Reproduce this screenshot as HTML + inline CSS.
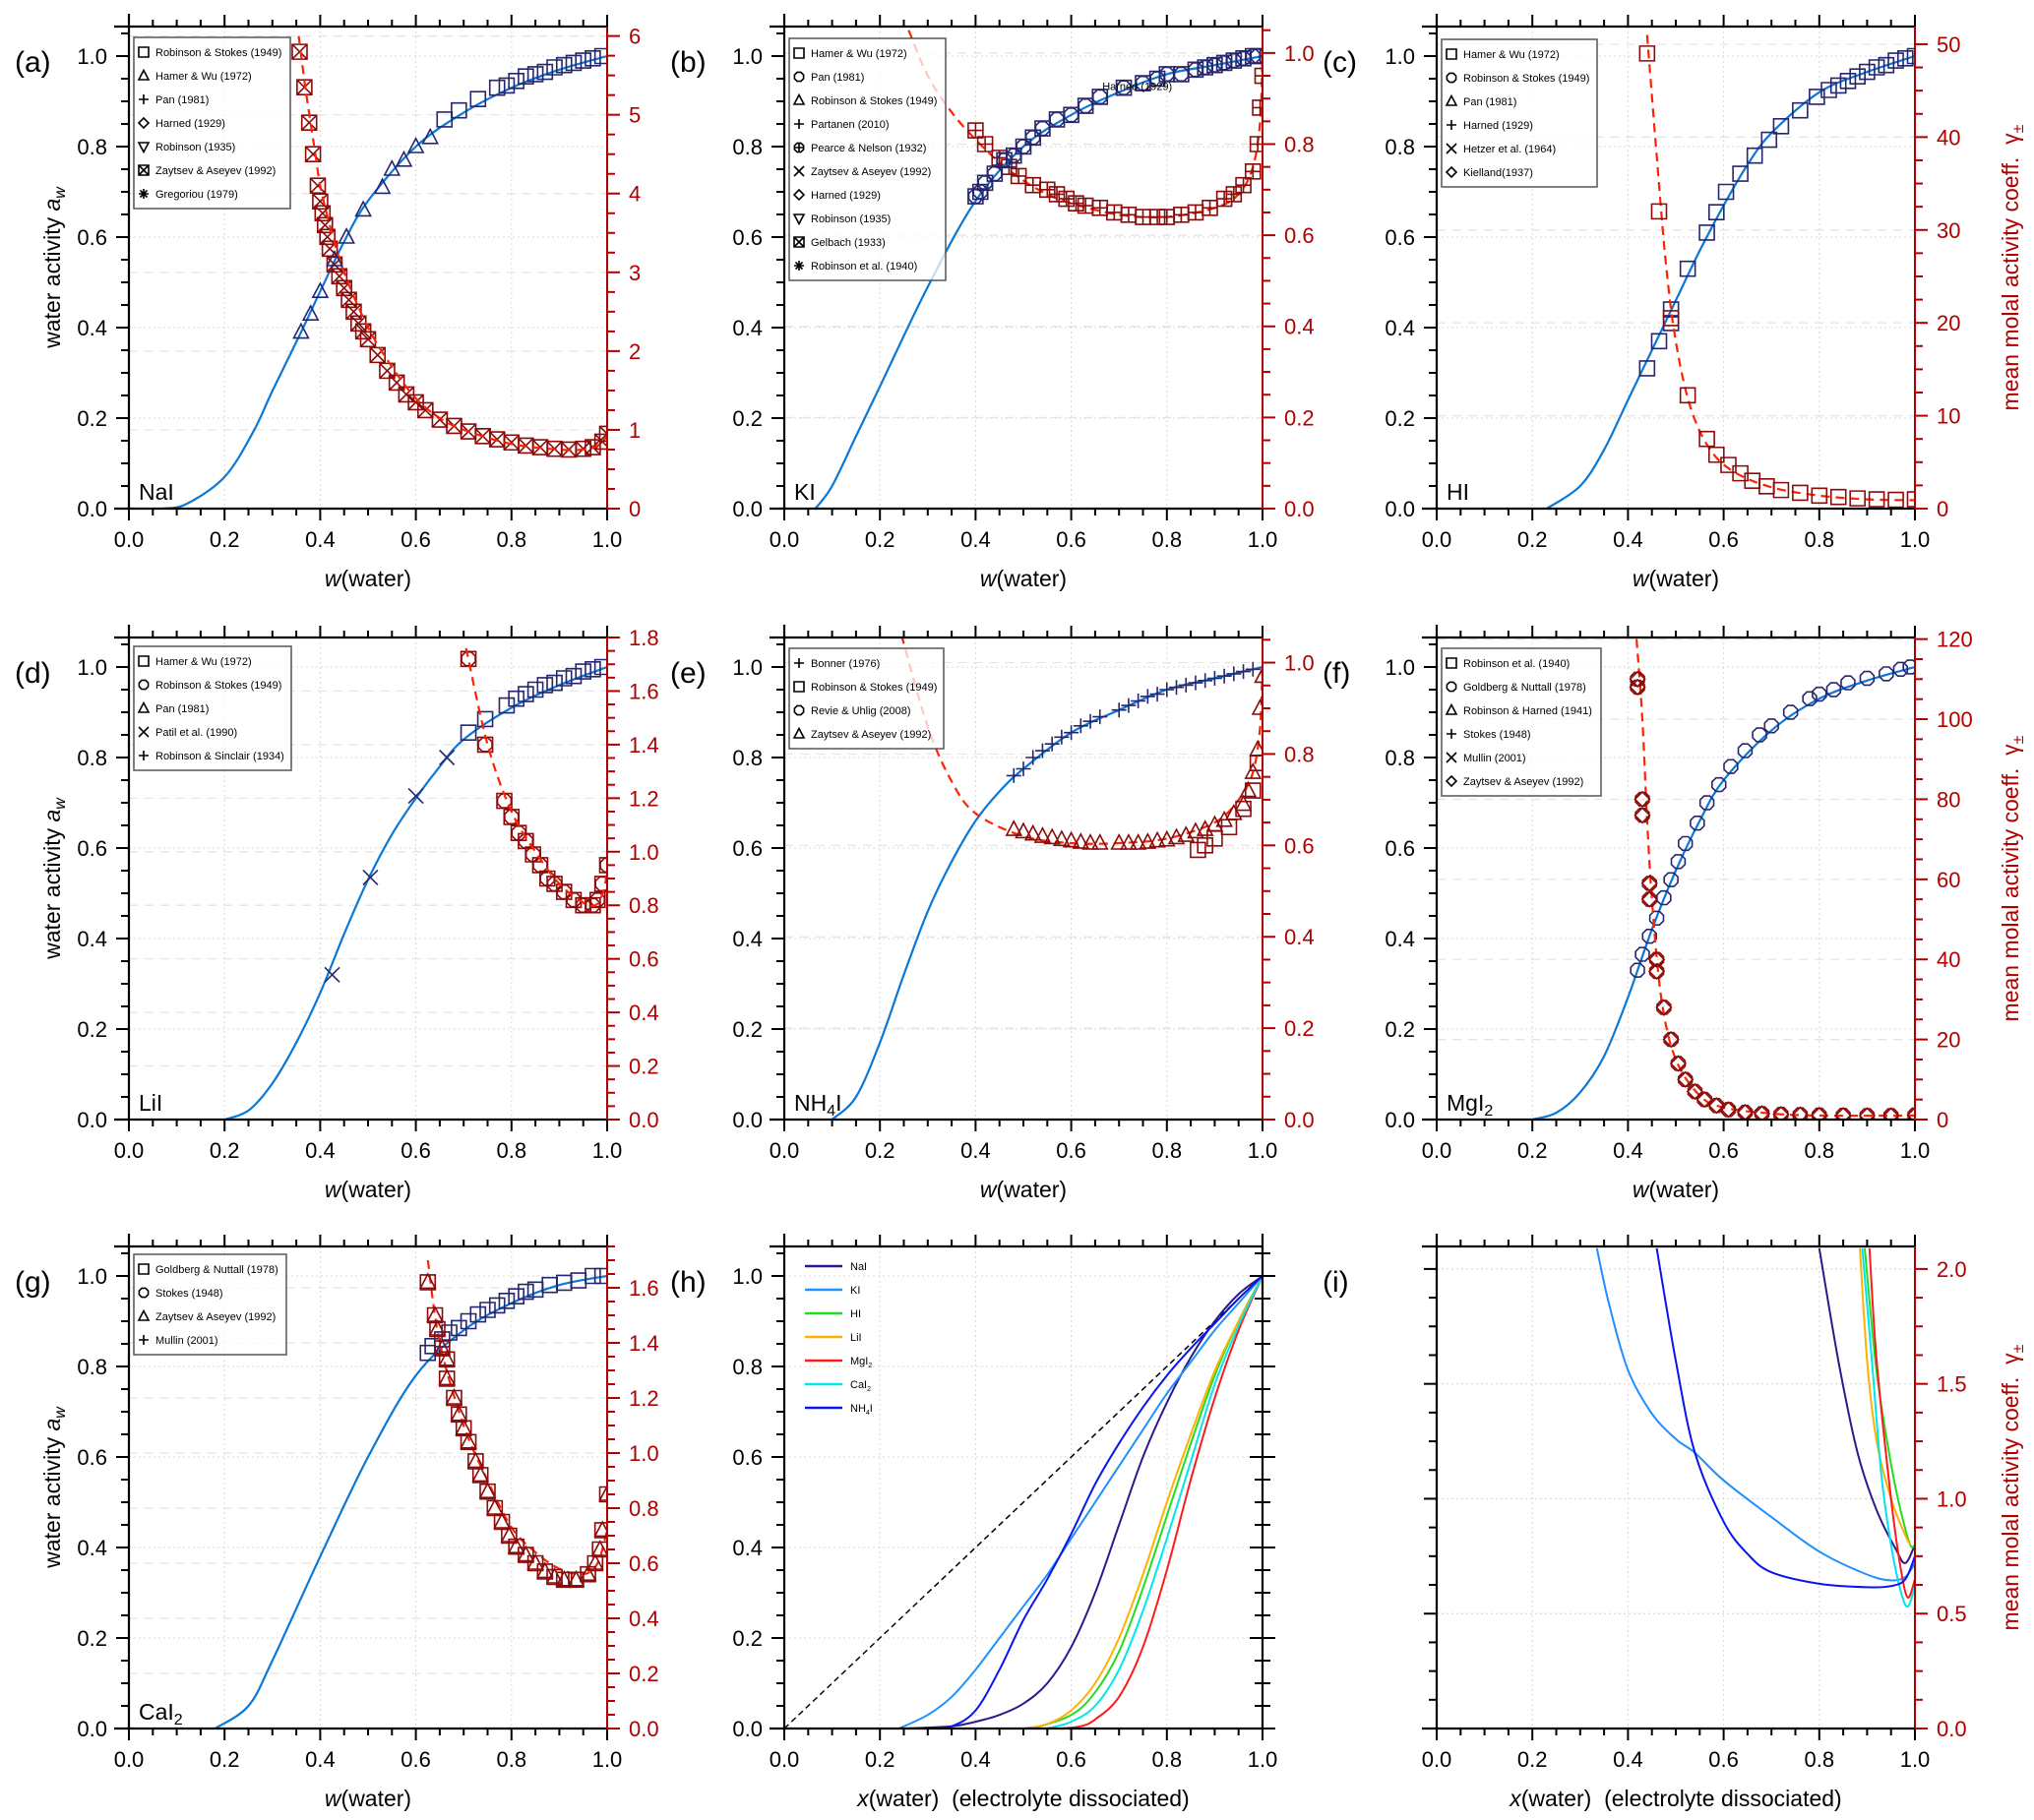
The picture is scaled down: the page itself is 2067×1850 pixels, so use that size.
<!DOCTYPE html>
<html><head><meta charset="utf-8"><title>Water activity and activity coefficients of iodide electrolytes</title>
<style>
html,body{margin:0;padding:0;background:#fff;}
svg{display:block;font-family:"Liberation Sans",Arial,sans-serif;}
</style></head>
<body>
<svg id="fig" width="2067" height="1850" viewBox="0 0 2067 1850" xmlns="http://www.w3.org/2000/svg">
<rect x="0" y="0" width="2067" height="1850" fill="#fff"/>
</svg>
<script>
// ---------- DATA: fitted curves (left axis a_w, right axis gamma) ----------
const aCurveX=[0.07,0.12,0.2,0.26,0.3,0.36,0.4,0.45,0.5,0.6,0.7,0.8,0.9,1.0];
const aCurveY=[0,0.01,0.07,0.17,0.26,0.39,0.48,0.59,0.68,0.8,0.875,0.93,0.97,1.0];
const aGamX=[0.355,0.37,0.39,0.4,0.42,0.45,0.5,0.55,0.6,0.65,0.7,0.8,0.9,0.95,0.98,1.0];
const aGamY=[6.0,5.3,4.5,4.1,3.6,3.0,2.3,1.8,1.4,1.15,1.0,0.82,0.75,0.75,0.8,0.92];
const bCurveX=[0.065,0.1,0.15,0.2,0.3,0.4,0.5,0.6,0.7,0.8,0.9,1.0];
const bCurveY=[0,0.05,0.16,0.27,0.49,0.68,0.8,0.87,0.92,0.96,0.98,1.0];
const bGamX=[0.26,0.3,0.35,0.4,0.45,0.5,0.55,0.6,0.7,0.8,0.9,0.95,0.98,0.995,1.0];
const bGamY=[1.05,0.95,0.87,0.81,0.76,0.72,0.69,0.67,0.645,0.64,0.66,0.69,0.75,0.85,1.0];
const cCurveX=[0.23,0.3,0.35,0.4,0.45,0.5,0.55,0.6,0.65,0.7,0.8,0.9,1.0];
const cCurveY=[0,0.05,0.13,0.24,0.35,0.46,0.57,0.67,0.76,0.83,0.92,0.965,1.0];
const cGamX=[0.44,0.46,0.48,0.5,0.53,0.57,0.62,0.7,0.8,0.9,1.0];
const cGamY=[51,38,26,18,11,6.5,4,2.3,1.4,1.0,0.9];
const dCurveX=[0.2,0.25,0.3,0.35,0.4,0.45,0.5,0.55,0.6,0.65,0.7,0.8,0.9,1.0];
const dCurveY=[0,0.02,0.08,0.17,0.28,0.41,0.53,0.63,0.71,0.78,0.84,0.91,0.96,1.0];
const dGamX=[0.705,0.75,0.8,0.85,0.9,0.95,0.975,0.99,1.0];
const dGamY=[1.76,1.4,1.15,1.0,0.88,0.81,0.8,0.84,0.92];
const eCurveX=[0.1,0.15,0.2,0.25,0.3,0.35,0.4,0.45,0.5,0.6,0.7,0.8,0.9,1.0];
const eCurveY=[0,0.05,0.17,0.32,0.46,0.57,0.66,0.725,0.775,0.855,0.905,0.95,0.975,1.0];
const eGamX=[0.245,0.3,0.35,0.4,0.5,0.6,0.7,0.8,0.9,0.95,0.98,0.995,1.0];
const eGamY=[1.06,0.86,0.74,0.67,0.62,0.605,0.605,0.615,0.65,0.7,0.76,0.86,1.0];
const fCurveX=[0.2,0.25,0.3,0.35,0.4,0.45,0.5,0.55,0.6,0.7,0.8,0.9,1.0];
const fCurveY=[0,0.015,0.06,0.14,0.27,0.42,0.55,0.66,0.75,0.86,0.93,0.97,1.0];
const fGamX=[0.418,0.43,0.44,0.45,0.47,0.5,0.55,0.6,0.7,0.8,1.0];
const fGamY=[120,100,75,55,30,15,6,3,1.5,1.0,1.0];
const gCurveX=[0.18,0.25,0.3,0.4,0.5,0.6,0.7,0.8,0.9,1.0];
const gCurveY=[0,0.05,0.15,0.38,0.6,0.78,0.88,0.94,0.98,1.0];
const gGamX=[0.625,0.65,0.7,0.75,0.8,0.85,0.9,0.95,0.98,1.0];
const gGamY=[1.7,1.4,1.1,0.9,0.73,0.64,0.58,0.56,0.6,0.72];

// ---------- DATA: measured markers [x, y] ----------
const aBlueTri=[[0.36,0.39],[0.38,0.43],[0.4,0.48],[0.43,0.55],[0.455,0.6],[0.49,0.66],[0.53,0.71],[0.55,0.75],[0.575,0.77],[0.6,0.8],[0.63,0.82]];
const aBlueSq=[[0.66,0.86],[0.69,0.88],[0.73,0.905],[0.77,0.93],[0.79,0.935],[0.81,0.945],[0.83,0.955],[0.85,0.96],[0.87,0.965],[0.89,0.975],[0.91,0.98],[0.93,0.985],[0.95,0.99],[0.97,0.995],[0.99,1.0]];
const aRed=[[0.357,5.8],[0.367,5.35],[0.377,4.9],[0.385,4.5],[0.395,4.1],[0.4,3.9],[0.405,3.75],[0.41,3.6],[0.415,3.45],[0.42,3.3],[0.43,3.1],[0.44,2.95],[0.45,2.8],[0.46,2.65],[0.47,2.5],[0.48,2.35],[0.49,2.25],[0.5,2.15],[0.52,1.95],[0.54,1.75],[0.56,1.6],[0.58,1.45],[0.6,1.35],[0.62,1.25],[0.65,1.13],[0.68,1.05],[0.71,0.98],[0.74,0.92],[0.77,0.88],[0.8,0.84],[0.83,0.8],[0.86,0.78],[0.89,0.76],[0.92,0.75],[0.95,0.76],[0.97,0.78],[0.99,0.85],[1.0,0.95]];
const bBlue=[[0.4,0.69],[0.41,0.7],[0.42,0.72],[0.44,0.74],[0.46,0.77],[0.48,0.78],[0.5,0.8],[0.52,0.82],[0.54,0.84],[0.57,0.86],[0.6,0.87],[0.63,0.89],[0.66,0.91],[0.71,0.93],[0.75,0.94],[0.78,0.95],[0.8,0.96],[0.83,0.96],[0.86,0.97],[0.88,0.975],[0.9,0.98],[0.92,0.985],[0.94,0.99],[0.96,0.995],[0.98,1.0],[0.99,1.0]];
const bRed=[[0.4,0.83],[0.42,0.8],[0.45,0.77],[0.47,0.75],[0.49,0.73],[0.52,0.71],[0.55,0.7],[0.57,0.69],[0.59,0.68],[0.61,0.67],[0.63,0.665],[0.66,0.66],[0.69,0.65],[0.72,0.645],[0.75,0.64],[0.78,0.64],[0.8,0.64],[0.83,0.645],[0.86,0.65],[0.89,0.66],[0.92,0.68],[0.94,0.69],[0.96,0.71],[0.98,0.74],[0.99,0.8],[0.995,0.88],[1.0,0.95]];
const cBlue=[[0.44,0.31],[0.465,0.37],[0.49,0.41],[0.49,0.44],[0.525,0.53],[0.565,0.61],[0.585,0.655],[0.605,0.7],[0.635,0.74],[0.665,0.78],[0.695,0.815],[0.72,0.845],[0.76,0.88],[0.795,0.91],[0.82,0.925],[0.84,0.935],[0.86,0.945],[0.88,0.955],[0.9,0.965],[0.92,0.975],[0.94,0.98],[0.96,0.99],[0.98,0.995],[1.0,1.0]];
const cRed=[[0.44,49],[0.465,32],[0.49,20.5],[0.525,12.2],[0.565,7.5],[0.585,5.8],[0.61,4.7],[0.635,3.8],[0.66,3.0],[0.69,2.4],[0.72,2.0],[0.76,1.7],[0.8,1.4],[0.84,1.25],[0.88,1.1],[0.92,1.0],[0.96,0.95],[1.0,1.0]];
const dBlueX=[[0.425,0.32],[0.505,0.535],[0.6,0.715],[0.665,0.8]];
const dBlueSq=[[0.71,0.855],[0.745,0.885],[0.79,0.915],[0.81,0.93],[0.83,0.94],[0.85,0.95],[0.87,0.96],[0.89,0.965],[0.91,0.975],[0.93,0.98],[0.95,0.99],[0.97,0.995],[0.99,1.0]];
const dRed=[[0.71,1.72],[0.745,1.4],[0.785,1.19],[0.8,1.13],[0.815,1.07],[0.83,1.04],[0.845,0.99],[0.86,0.95],[0.875,0.9],[0.89,0.88],[0.91,0.85],[0.93,0.82],[0.95,0.8],[0.97,0.8],[0.98,0.82],[0.99,0.88],[1.0,0.95]];
const eBlue=[[0.48,0.76],[0.5,0.775],[0.52,0.8],[0.54,0.815],[0.56,0.83],[0.58,0.845],[0.6,0.855],[0.62,0.87],[0.64,0.88],[0.66,0.89],[0.7,0.905],[0.72,0.915],[0.74,0.925],[0.76,0.935],[0.78,0.94],[0.8,0.95],[0.82,0.955],[0.84,0.96],[0.86,0.965],[0.88,0.97],[0.9,0.975],[0.92,0.98],[0.94,0.985],[0.96,0.99],[0.98,0.995]];
const eRedTri=[[0.48,0.635],[0.5,0.63],[0.52,0.625],[0.54,0.62],[0.56,0.617],[0.58,0.613],[0.6,0.61],[0.62,0.607],[0.64,0.605],[0.66,0.605],[0.7,0.605],[0.72,0.605],[0.74,0.605],[0.76,0.607],[0.78,0.61],[0.8,0.612],[0.82,0.617],[0.84,0.622],[0.86,0.63],[0.88,0.635],[0.9,0.645],[0.92,0.655],[0.94,0.67],[0.96,0.69],[0.97,0.72],[0.98,0.76],[0.99,0.81],[0.995,0.9],[1.0,0.97]];
const eRedSq=[[0.865,0.59],[0.88,0.6],[0.9,0.615],[0.93,0.64],[0.96,0.68],[0.98,0.72],[0.99,0.78]];
const fBlue=[[0.42,0.33],[0.43,0.365],[0.445,0.405],[0.46,0.445],[0.475,0.49],[0.49,0.53],[0.505,0.57],[0.52,0.61],[0.545,0.655],[0.565,0.7],[0.59,0.74],[0.615,0.78],[0.645,0.815],[0.675,0.85],[0.7,0.87],[0.74,0.9],[0.78,0.93],[0.8,0.94],[0.83,0.95],[0.86,0.965],[0.9,0.975],[0.94,0.985],[0.97,0.995],[0.99,1.0]];
const fRed=[[0.42,110],[0.42,108],[0.43,80],[0.43,76],[0.445,59],[0.445,55],[0.46,40],[0.46,37],[0.475,28],[0.49,20],[0.505,14],[0.52,10],[0.54,7],[0.56,5],[0.585,3.5],[0.61,2.5],[0.645,1.8],[0.68,1.5],[0.72,1.3],[0.76,1.2],[0.8,1.1],[0.85,1.05],[0.9,1.0],[0.95,1.0],[1.0,1.1]];
const gBlue=[[0.625,0.83],[0.635,0.845],[0.655,0.86],[0.67,0.875],[0.69,0.885],[0.71,0.9],[0.73,0.915],[0.75,0.925],[0.77,0.935],[0.79,0.945],[0.81,0.955],[0.83,0.965],[0.85,0.97],[0.88,0.98],[0.91,0.985],[0.94,0.99],[0.97,1.0],[0.99,1.0]];
const gRed=[[0.625,1.62],[0.64,1.5],[0.645,1.45],[0.655,1.38],[0.665,1.34],[0.665,1.27],[0.68,1.2],[0.69,1.14],[0.7,1.09],[0.71,1.04],[0.725,0.97],[0.735,0.92],[0.75,0.86],[0.765,0.8],[0.78,0.75],[0.795,0.7],[0.81,0.66],[0.83,0.63],[0.85,0.6],[0.87,0.57],[0.89,0.55],[0.91,0.54],[0.935,0.54],[0.96,0.56],[0.975,0.6],[0.985,0.65],[0.99,0.72],[1.0,0.85]];

// ---------- DATA: panel (h) a_w vs x ----------
const hNames=["NaI","KI","HI","LiI","MgI2","CaI2","NH4I"];
const hX_NaI=[0.25,0.35,0.4,0.45,0.5,0.55,0.6,0.65,0.7,0.75,0.8,0.85,0.9,0.95,1.0];
const hY_NaI=[0,0.005,0.015,0.03,0.055,0.1,0.18,0.3,0.45,0.6,0.72,0.82,0.9,0.96,1.0];
const hX_KI=[0.24,0.3,0.35,0.4,0.45,0.5,0.55,0.6,0.65,0.7,0.75,0.8,0.85,0.9,0.95,1.0];
const hY_KI=[0,0.03,0.07,0.13,0.2,0.27,0.34,0.42,0.5,0.58,0.66,0.74,0.81,0.88,0.94,1.0];
const hX_HI=[0.52,0.6,0.65,0.7,0.75,0.8,0.85,0.9,0.95,1.0];
const hY_HI=[0,0.03,0.08,0.17,0.31,0.47,0.63,0.78,0.9,1.0];
const hX_LiI=[0.5,0.55,0.6,0.65,0.7,0.75,0.8,0.85,0.9,0.95,1.0];
const hY_LiI=[0,0.01,0.04,0.1,0.2,0.34,0.5,0.65,0.79,0.9,1.0];
const hX_MgI2=[0.58,0.62,0.65,0.7,0.75,0.8,0.85,0.9,0.95,1.0];
const hY_MgI2=[0,0.005,0.02,0.07,0.18,0.35,0.55,0.73,0.88,1.0];
const hX_CaI2=[0.55,0.6,0.65,0.7,0.75,0.8,0.85,0.9,0.95,1.0];
const hY_CaI2=[0,0.015,0.05,0.13,0.26,0.42,0.59,0.76,0.89,1.0];
const hX_NH4I=[0.3,0.35,0.4,0.45,0.5,0.55,0.6,0.65,0.7,0.75,0.8,0.85,0.9,0.95,1.0];
const hY_NH4I=[0,0.005,0.04,0.13,0.24,0.33,0.43,0.54,0.63,0.71,0.78,0.84,0.895,0.95,1.0];
// ---------- DATA: panel (i) gamma vs x ----------
const iX_NaI=[0.8,0.84,0.88,0.92,0.96,0.98,1.0];
const iY_NaI=[2.09,1.6,1.2,0.95,0.78,0.72,0.8];
const iX_KI=[0.335,0.36,0.4,0.45,0.5,0.54,0.6,0.7,0.8,0.9,0.95,0.98,1.0];
const iY_KI=[2.09,1.85,1.56,1.37,1.26,1.2,1.08,0.92,0.77,0.67,0.645,0.66,0.72];
const iX_HI=[0.895,0.92,0.95,0.97,0.99,1.0];
const iY_HI=[2.09,1.55,1.15,0.95,0.8,0.8];
const iX_LiI=[0.885,0.9,0.92,0.95,0.98,0.99];
const iY_LiI=[2.09,1.6,1.25,1.0,0.84,0.8];
const iX_MgI2=[0.905,0.92,0.95,0.97,0.985,1.0];
const iY_MgI2=[2.09,1.6,1.0,0.7,0.57,0.65];
const iX_CaI2=[0.89,0.91,0.93,0.95,0.97,0.985,1.0];
const iY_CaI2=[2.09,1.6,1.1,0.8,0.6,0.53,0.62];
const iX_NH4I=[0.46,0.5,0.54,0.6,0.65,0.7,0.8,0.9,0.95,0.98,1.0];
const iY_NH4I=[2.09,1.6,1.2,0.9,0.76,0.68,0.63,0.615,0.62,0.65,0.75];

// ---------- DATA: tick labels ----------
const xTickLabels=["0.0","0.2","0.4","0.6","0.8","1.0"];
const leftTickLabels=["0.0","0.2","0.4","0.6","0.8","1.0"];

const SVGNS="http://www.w3.org/2000/svg";
const fig=document.getElementById('fig');
const COLS=[131,797,1460], ROWS=[517,1138,1757], W=486, H=490, LPU=460;
const NAVY="#26266e", DRED="#8b0a0a", BLUE="#0b78d8", RED="#ff2200", RTX="#b00000";
const FS=22;

function mk(tag,attrs,name,parent){
  const el=document.createElementNS(SVGNS,tag);
  for(const k in attrs) el.setAttribute(k,attrs[k]);
  
  
  (parent||fig).appendChild(el);
  return el;
}
function smooth(pts){
  if(pts.length<2) return "";
  let d="M"+pts[0][0].toFixed(1)+","+pts[0][1].toFixed(1);
  for(let i=0;i<pts.length-1;i++){
    const p0=pts[Math.max(0,i-1)],p1=pts[i],p2=pts[i+1],p3=pts[Math.min(pts.length-1,i+2)];
    const c1x=p1[0]+(p2[0]-p0[0])/6,c1y=p1[1]+(p2[1]-p0[1])/6;
    const c2x=p2[0]-(p3[0]-p1[0])/6,c2y=p2[1]-(p3[1]-p1[1])/6;
    d+=" C"+c1x.toFixed(1)+","+c1y.toFixed(1)+" "+c2x.toFixed(1)+","+c2y.toFixed(1)+" "+p2[0].toFixed(1)+","+p2[1].toFixed(1);
  }
  return d;
}
function marker(g,type,cx,cy,s,color,name){
  const h=s/2, sw=1.6;
  let d="";
  if(type==="sq"||type==="sqx"){ d=`M${cx-h},${cy-h}h${s}v${s}h${-s}Z`; if(type==="sqx") d+=`M${cx-h},${cy-h}L${cx+h},${cy+h}M${cx+h},${cy-h}L${cx-h},${cy+h}`; }
  else if(type==="tri"){ d=`M${cx},${cy-h*1.1}L${cx+h},${cy+h*0.8}L${cx-h},${cy+h*0.8}Z`; }
  else if(type==="tridown"){ d=`M${cx},${cy+h*1.1}L${cx+h},${cy-h*0.8}L${cx-h},${cy-h*0.8}Z`; }
  else if(type==="plus"){ d=`M${cx-h},${cy}H${cx+h}M${cx},${cy-h}V${cy+h}`; }
  else if(type==="x"){ d=`M${cx-h},${cy-h}L${cx+h},${cy+h}M${cx+h},${cy-h}L${cx-h},${cy+h}`; }
  else if(type==="star"){ d=`M${cx-h},${cy}H${cx+h}M${cx},${cy-h}V${cy+h}M${cx-h*0.7},${cy-h*0.7}L${cx+h*0.7},${cy+h*0.7}M${cx+h*0.7},${cy-h*0.7}L${cx-h*0.7},${cy+h*0.7}`; }
  else if(type==="dia"){ d=`M${cx},${cy-h}L${cx+h},${cy}L${cx},${cy+h}L${cx-h},${cy}Z`; }
  else if(type==="oct"||type==="circplus"){
    for(let k=0;k<8;k++){const a=Math.PI/8+k*Math.PI/4; d+=(k?"L":"M")+(cx+h*Math.cos(a)).toFixed(1)+","+(cy+h*Math.sin(a)).toFixed(1);} d+="Z";
    if(type==="circplus") d+=`M${cx-h},${cy}H${cx+h}M${cx},${cy-h}V${cy+h}`;
  }
  mk('path',{d:d,fill:"none",stroke:color,"stroke-width":sw},name,g);
}
function text(g,x,y,str,size,opts,name){
  const t=mk('text',Object.assign({x:x,y:y,"font-size":size,fill:"#000"},opts||{}),name,g);
  t.textContent=str; return t;
}

let clipId=0;
function panel(cfg){
  const gx=COLS[cfg.col], gy=ROWS[cfg.row], top=gy-H, right=gx+W;
  const g=mk('g',{},"panel-"+cfg.id);
  const sx=v=>gx+v*W;
  const syL=v=>gy-v*LPU;
  const syR=v=>gy-v/cfg.R*H;
  const grid=mk('g',{},"grid-"+cfg.id,g);
  for(let v=0.2;v<0.99;v+=0.2) mk('line',{x1:sx(v),x2:sx(v),y1:top,y2:gy,stroke:"#d8d8d8","stroke-width":1,"stroke-dasharray":"2,3"},"grid-vertical",grid);
  if(!cfg.noLeftLabels) for(let v=0.2;v<1.01;v+=0.2) mk('line',{x1:gx,x2:right,y1:syL(v),y2:syL(v),stroke:"#d8d8d8","stroke-width":1,"stroke-dasharray":"2,3"},"grid-horizontal",grid);
  if(cfg.R){ for(let v=cfg.rMaj;v<=cfg.R+1e-9;v+=cfg.rMaj){ mk('line',{x1:gx,x2:right,y1:syR(v),y2:syR(v),stroke:cfg.noLeftLabels?"#d8d8d8":"#e3e3e3","stroke-width":1.2,"stroke-dasharray":cfg.noLeftLabels?"2,3":"9,7"},"grid-right",grid);} }
  const cid="clip"+(clipId++);
  const cp=mk('clipPath',{id:cid},"clip-"+cfg.id,g);
  mk('rect',{x:gx,y:top,width:W,height:H},"clip-rect",cp);
  const plot=mk('g',{"clip-path":"url(#"+cid+")"},"plot-area-"+cfg.id,g);
  if(cfg.draw) cfg.draw(plot,sx,syL,syR);
  const ax=mk('g',{},"axes-"+cfg.id,g);
  mk('line',{x1:gx-15,x2:right,y1:gy,y2:gy,stroke:"#000","stroke-width":2.2},"x-axis-bottom",ax);
  mk('line',{x1:gx-15,x2:right,y1:top,y2:top,stroke:"#000","stroke-width":2.2},"x-axis-top",ax);
  mk('line',{x1:gx,x2:gx,y1:top-13,y2:gy+1,stroke:"#000","stroke-width":2.2},"y-axis-left",ax);
  for(let k=0;k<=20;k++){
    const v=k*0.05, big=(k%4===0), L=big?12:7;
    mk('line',{x1:sx(v),x2:sx(v),y1:gy,y2:gy+L,stroke:"#000","stroke-width":2},"x-tick",ax);
    mk('line',{x1:sx(v),x2:sx(v),y1:top,y2:top-L,stroke:"#000","stroke-width":2},"x-tick-top",ax);
  }
  xTickLabels.forEach((s,k)=>{ text(ax,sx(k*0.2),gy+39,s,FS,{"text-anchor":"middle"},"x-tick-label"); });
  if(!cfg.noLeftLabels){
    for(let k=0;k<=21;k++){ const v=k*0.05, big=(k%4===0), L=big?13:8;
      mk('line',{x1:gx,x2:gx-L,y1:syL(v),y2:syL(v),stroke:"#000","stroke-width":2},"y-tick-left",ax);
      if(cfg.mirror) mk('line',{x1:right-L,x2:right+L,y1:syL(v),y2:syL(v),stroke:"#000","stroke-width":2},"y-tick-right",ax);
    }
    leftTickLabels.forEach((s,k)=>{ text(ax,gx-22,syL(k*0.2)+8,s,FS,{"text-anchor":"end"},"y-tick-label"); });
  }
  if(cfg.mirror) mk('line',{x1:right,x2:right,y1:top-13,y2:gy+1,stroke:"#000","stroke-width":2.2},"y-axis-right",ax);
  if(cfg.R){
    const ra=mk('g',{},"right-axis-"+cfg.id,g);
    mk('line',{x1:right,x2:right,y1:top,y2:gy,stroke:RTX,"stroke-width":2},"y-axis-right",ra);
    const n=Math.floor(cfg.R/cfg.rMin+1e-6);
    for(let k=0;k<=n;k++){ const v=k*cfg.rMin; const big=Math.abs(v/cfg.rMaj-Math.round(v/cfg.rMaj))<1e-6; const L=big?13:8;
      mk('line',{x1:right,x2:right+L,y1:syR(v),y2:syR(v),stroke:RTX,"stroke-width":2},"y-tick-right",ra);
      if(cfg.noLeftLabels) mk('line',{x1:gx,x2:gx-L,y1:syR(v),y2:syR(v),stroke:"#000","stroke-width":2},"y-tick-left",ax);
      if(big) text(ra,right+22,syR(v)+8,v.toFixed(cfg.rDec),FS,{fill:RTX},"y-tick-label-right");
    }
    if(cfg.rTitle){
      const cy=(top+gy)/2, tx=2051;
      const t=mk('text',{x:tx,y:cy,"font-size":23,fill:RTX,"text-anchor":"middle",transform:`rotate(-90 ${tx} ${cy})`},"right-axis-title",ra);
      t.appendChild(document.createTextNode("mean molal activity coeff.\u00a0\u00a0\u03b3"));
      const ts=mk('tspan',{"font-size":16,dy:5},"gamma-subscript",t); ts.textContent="\u00b1";
    }
  }
  if(cfg.leftTitle){
    const cy=(top+gy)/2;
    const t=mk('text',{x:61,y:cy,"font-size":23,"text-anchor":"middle",transform:`rotate(-90 61 ${cy})`},"y-axis-title",g);
    t.appendChild(document.createTextNode("water activity "));
    const a=mk('tspan',{"font-style":"italic"},"a-symbol",t); a.textContent="a";
    const w=mk('tspan',{"font-style":"italic","font-size":16,dy:5},"w-subscript",t); w.textContent="w";
  }
  const xt=mk('text',{x:gx+W/2,y:gy+79,"font-size":23,"text-anchor":"middle"},"x-axis-title",g);
  const it=mk('tspan',{"font-style":"italic"},"x-title-var",xt); it.textContent=cfg.xvar;
  xt.appendChild(document.createTextNode(cfg.xrest));
  text(g,gx-116,gy-444,"("+cfg.id+")",30,{},"panel-label");
  if(cfg.sub){
    const t=mk('text',{x:gx+10,y:gy-9,"font-size":23},"substance-label",g);
    t.appendChild(document.createTextNode(cfg.sub[0]));
    if(cfg.sub[1]){ const s=mk('tspan',{"font-size":16,dy:5},"substance-subscript",t); s.textContent=cfg.sub[1];
      if(cfg.sub[2]){ const r=mk('tspan',{dy:-5},"substance-rest",t); r.textContent=cfg.sub[2]; } }
  }
  if(cfg.legend){
    const lg=mk('g',{},"legend-"+cfg.id,g);
    const L=cfg.legend;
    mk('rect',{x:gx+5,y:L.y,width:L.w,height:L.entries.length*24+6,fill:"#fff","fill-opacity":0.75,stroke:"#555","stroke-width":1.5},"legend-box",lg);
    L.entries.forEach((e,i)=>{
      const cy=L.y+15+i*24;
      marker(lg,e[0],gx+15,cy,10,"#000","legend-symbol");
      text(lg,gx+27,cy+4,e[1],11,{},"legend-entry");
    });
  }
  return g;
}
function curve(g,xs,ys,sx,sy,color,dash,name,w){
  const pts=xs.map((x,i)=>[sx(x),sy(ys[i])]);
  const o={d:smooth(pts),fill:"none",stroke:color,"stroke-width":w||2.2};
  if(dash) o["stroke-dasharray"]=dash;
  mk('path',o,name,g);
}
function marks(g,arr,type,sx,sy,color,name){ arr.forEach(p=>marker(g,type,sx(p[0]),sy(p[1]),15,color,name)); }

const XW="(water)";
const XD="(water)\u00a0\u00a0(electrolyte dissociated)";

panel({id:"a",col:0,row:0,R:6.12,rMaj:1,rMin:0.25,rDec:0,leftTitle:true,xvar:"w",xrest:XW,sub:["NaI"],
  legend:{y:38,w:159,entries:[["sq","Robinson & Stokes (1949)"],["tri","Hamer & Wu (1972)"],["plus","Pan (1981)"],["dia","Harned (1929)"],["tridown","Robinson (1935)"],["sqx","Zaytsev & Aseyev (1992)"],["star","Gregoriou (1979)"]]},
  draw:(g,sx,sl,sr)=>{ curve(g,aCurveX,aCurveY,sx,sl,BLUE,null,"aw-fit-curve");
    marks(g,aRed,"sqx",sx,sr,DRED,"gamma-marker"); curve(g,aGamX,aGamY,sx,sr,RED,"9,6","gamma-fit-curve");
    marks(g,aBlueTri,"tri",sx,sl,NAVY,"aw-marker"); marks(g,aBlueSq,"sq",sx,sl,NAVY,"aw-marker"); }});
panel({id:"b",col:1,row:0,R:1.058,rMaj:0.2,rMin:0.05,rDec:1,xvar:"w",xrest:XW,sub:["KI"],
  legend:{y:39,w:159,entries:[["sq","Hamer & Wu (1972)"],["oct","Pan (1981)"],["tri","Robinson & Stokes (1949)"],["plus","Partanen (2010)"],["circplus","Pearce & Nelson (1932)"],["x","Zaytsev & Aseyev (1992)"],["dia","Harned (1929)"],["tridown","Robinson (1935)"],["sqx","Gelbach (1933)"],["star","Robinson et al. (1940)"]]},
  draw:(g,sx,sl,sr)=>{ curve(g,bGamX,bGamY,sx,sr,RED,"9,6","gamma-fit-curve");
    marks(g,bRed,"sq",sx,sr,DRED,"gamma-marker"); marks(g,bRed,"plus",sx,sr,DRED,"gamma-marker");
    curve(g,bCurveX,bCurveY,sx,sl,BLUE,null,"aw-fit-curve");
    marks(g,bBlue,"oct",sx,sl,NAVY,"aw-marker"); marks(g,bBlue,"sq",sx,sl,NAVY,"aw-marker");
    text(g,sx(0.665),sl(0.925),"Harned (1929)",11,{},"stray-label"); }});
panel({id:"c",col:2,row:0,R:51.9,rMaj:10,rMin:2.5,rDec:0,rTitle:true,xvar:"w",xrest:XW,sub:["HI"],
  legend:{y:40,w:158,entries:[["sq","Hamer & Wu (1972)"],["oct","Robinson & Stokes (1949)"],["tri","Pan (1981)"],["plus","Harned (1929)"],["x","Hetzer et al. (1964)"],["dia","Kielland(1937)"]]},
  draw:(g,sx,sl,sr)=>{ curve(g,cCurveX,cCurveY,sx,sl,BLUE,null,"aw-fit-curve");
    marks(g,cBlue,"sq",sx,sl,NAVY,"aw-marker");
    curve(g,cGamX,cGamY,sx,sr,RED,"9,6","gamma-fit-curve"); marks(g,cRed,"sq",sx,sr,DRED,"gamma-marker"); }});
panel({id:"d",col:0,row:1,R:1.8,rMaj:0.2,rMin:0.05,rDec:1,leftTitle:true,xvar:"w",xrest:XW,sub:["LiI"],
  legend:{y:657,w:160,entries:[["sq","Hamer & Wu (1972)"],["oct","Robinson & Stokes (1949)"],["tri","Pan (1981)"],["x","Patil et al. (1990)"],["plus","Robinson & Sinclair (1934)"]]},
  draw:(g,sx,sl,sr)=>{ curve(g,dCurveX,dCurveY,sx,sl,BLUE,null,"aw-fit-curve");
    marks(g,dBlueX,"x",sx,sl,NAVY,"aw-marker"); marks(g,dBlueSq,"sq",sx,sl,NAVY,"aw-marker");
    marks(g,dRed,"sq",sx,sr,DRED,"gamma-marker"); marks(g,dRed,"oct",sx,sr,DRED,"gamma-marker");
    curve(g,dGamX,dGamY,sx,sr,RED,"9,6","gamma-fit-curve"); }});
panel({id:"e",col:1,row:1,R:1.055,rMaj:0.2,rMin:0.05,rDec:1,xvar:"w",xrest:XW,sub:["NH","4","I"],
  legend:{y:659,w:157,entries:[["plus","Bonner (1976)"],["sq","Robinson & Stokes (1949)"],["oct","Revie & Uhlig (2008)"],["tri","Zaytsev & Aseyev (1992)"]]},
  draw:(g,sx,sl,sr)=>{ curve(g,eCurveX,eCurveY,sx,sl,BLUE,null,"aw-fit-curve");
    marks(g,eBlue,"plus",sx,sl,NAVY,"aw-marker");
    curve(g,eGamX,eGamY,sx,sr,RED,"9,6","gamma-fit-curve");
    marks(g,eRedTri,"tri",sx,sr,DRED,"gamma-marker"); marks(g,eRedSq,"sq",sx,sr,DRED,"gamma-marker"); }});
panel({id:"f",col:2,row:1,R:120.4,rMaj:20,rMin:5,rDec:0,rTitle:true,xvar:"w",xrest:XW,sub:["MgI","2"],
  legend:{y:659,w:162,entries:[["sq","Robinson et al. (1940)"],["oct","Goldberg & Nuttall (1978)"],["tri","Robinson & Harned (1941)"],["plus","Stokes (1948)"],["x","Mullin (2001)"],["dia","Zaytsev & Aseyev (1992)"]]},
  draw:(g,sx,sl,sr)=>{ curve(g,fCurveX,fCurveY,sx,sl,BLUE,null,"aw-fit-curve");
    marks(g,fBlue,"oct",sx,sl,NAVY,"aw-marker");
    curve(g,fGamX,fGamY,sx,sr,RED,"9,6","gamma-fit-curve");
    marks(g,fRed,"oct",sx,sr,DRED,"gamma-marker"); marks(g,fRed,"dia",sx,sr,DRED,"gamma-marker"); }});
panel({id:"g",col:0,row:2,R:1.75,rMaj:0.2,rMin:0.05,rDec:1,leftTitle:true,xvar:"w",xrest:XW,sub:["CaI","2"],
  legend:{y:1275,w:155,entries:[["sq","Goldberg & Nuttall (1978)"],["oct","Stokes (1948)"],["tri","Zaytsev & Aseyev (1992)"],["plus","Mullin (2001)"]]},
  draw:(g,sx,sl,sr)=>{ curve(g,gCurveX,gCurveY,sx,sl,BLUE,null,"aw-fit-curve");
    marks(g,gBlue,"sq",sx,sl,NAVY,"aw-marker");
    curve(g,gGamX,gGamY,sx,sr,RED,"9,6","gamma-fit-curve");
    marks(g,gRed,"sq",sx,sr,DRED,"gamma-marker"); marks(g,gRed,"tri",sx,sr,DRED,"gamma-marker"); }});

const hColors={NaI:"#2a1a8c",KI:"#1e90ff",HI:"#22dd22",LiI:"#ffb000",MgI2:"#ff1a1a",CaI2:"#00e5ee",NH4I:"#0a14ee"};
const hData={NaI:[hX_NaI,hY_NaI],KI:[hX_KI,hY_KI],HI:[hX_HI,hY_HI],LiI:[hX_LiI,hY_LiI],MgI2:[hX_MgI2,hY_MgI2],CaI2:[hX_CaI2,hY_CaI2],NH4I:[hX_NH4I,hY_NH4I]};
const iData={NaI:[iX_NaI,iY_NaI],KI:[iX_KI,iY_KI],HI:[iX_HI,iY_HI],LiI:[iX_LiI,iY_LiI],MgI2:[iX_MgI2,iY_MgI2],CaI2:[iX_CaI2,iY_CaI2],NH4I:[iX_NH4I,iY_NH4I]};
const ph=panel({id:"h",col:1,row:2,mirror:true,xvar:"x",xrest:XD,
  draw:(g,sx,sl)=>{ mk('line',{x1:sx(0),y1:sl(0),x2:sx(1),y2:sl(1),stroke:"#000","stroke-width":1.5,"stroke-dasharray":"6,4"},"ideal-diagonal",g);
    hNames.forEach(n=>curve(g,hData[n][0],hData[n][1],sx,sl,hColors[n],null,"aw-curve-"+n.toLowerCase(),2)); }});
(function(){
  const lg=mk('g',{},"legend-h",ph);
  const labels=[["NaI"],["KI"],["HI"],["LiI"],["MgI","2"],["CaI","2"],["NH","4","I"]];
  hNames.forEach((n,i)=>{ const cy=1287+i*24;
    mk('line',{x1:818,x2:856,y1:cy,y2:cy,stroke:hColors[n],"stroke-width":2.5},"legend-line",lg);
    const t=mk('text',{x:864,y:cy+4,"font-size":11},"legend-entry",lg);
    t.appendChild(document.createTextNode(labels[i][0]));
    if(labels[i][1]){ const s=mk('tspan',{"font-size":7,dy:3},"legend-subscript",t); s.textContent=labels[i][1];
      if(labels[i][2]){ const r=mk('tspan',{dy:-3},"legend-rest",t); r.textContent=labels[i][2]; } }
  });
})();
panel({id:"i",col:2,row:2,R:2.098,rMaj:0.5,rMin:0.125,rDec:1,rTitle:true,noLeftLabels:true,xvar:"x",xrest:XD,
  draw:(g,sx,sl,sr)=>{ hNames.forEach(n=>curve(g,iData[n][0],iData[n][1],sx,sr,hColors[n],null,"gamma-curve-"+n.toLowerCase(),2)); }});
</script>
</body></html>
